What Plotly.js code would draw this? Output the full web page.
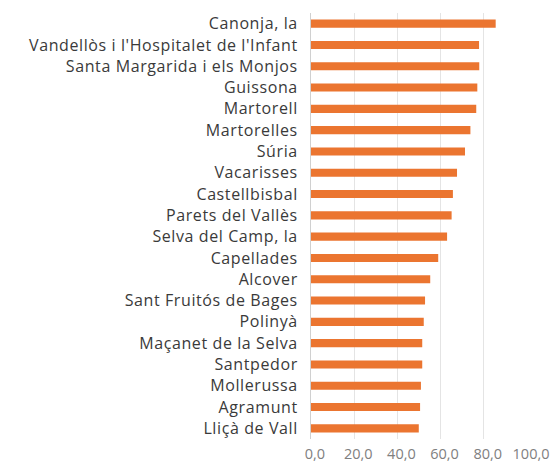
<!DOCTYPE html>
<html>
<head>
<meta charset="utf-8">
<script src="https://cdn.plot.ly/plotly-3.0.1.min.js"></script>
<style>html,body{margin:0;padding:0;background:#fff;}#chart{width:555px;height:466px;}
#chart .ytick text{letter-spacing:0.6px;}</style>
</head>
<body>
<div id="chart"></div>
<script>
const municipalities = [
  "Canonja, la",
  "Vandellòs i l'Hospitalet de l'Infant",
  "Santa Margarida i els Monjos",
  "Guissona",
  "Martorell",
  "Martorelles",
  "Súria",
  "Vacarisses",
  "Castellbisbal",
  "Parets del Vallès",
  "Selva del Camp, la",
  "Capellades",
  "Alcover",
  "Sant Fruitós de Bages",
  "Polinyà",
  "Maçanet de la Selva",
  "Santpedor",
  "Mollerussa",
  "Agramunt",
  "Lliçà de Vall"
];
const values = [85.5, 77.8, 77.9, 77.0, 76.5, 73.8, 71.3, 67.6, 65.7, 65.1, 63.0, 58.9, 55.2, 52.8, 52.2, 51.5, 51.5, 50.9, 50.5, 49.9];
const xTicks = [0, 20, 40, 60, 80, 100];

const trace = {
  type: 'bar',
  orientation: 'h',
  x: values,
  y: municipalities,
  marker: {color: '#EB7530'},
  hoverinfo: 'x+y'
};

const layout = {
  width: 555,
  height: 466,
  margin: {l: 311, r: 28, t: 13, b: 27},
  paper_bgcolor: '#ffffff',
  plot_bgcolor: '#ffffff',
  separators: ',.',
  bargap: 0.62,
  showlegend: false,
  font: {family: '"Open Sans", sans-serif', color: '#404040'},
  xaxis: {
    range: [0, 100],
    tickvals: xTicks,
    tickformat: '.1f',
    showgrid: true,
    gridcolor: '#e4e4e4',
    gridwidth: 1,
    zeroline: false,
    showline: false,
    ticks: '',
    ticklabelshift: 4,
    ticklabelstandoff: 4,
    tickfont: {size: 14.5, color: '#808080', family: '"Open Sans", sans-serif'},
    fixedrange: true
  },
  yaxis: {
    autorange: 'reversed',
    type: 'category',
    showline: true,
    linecolor: '#d0d0d0',
    linewidth: 1,
    showgrid: false,
    ticks: 'outside',
    ticklen: 9,
    tickcolor: 'rgba(0,0,0,0)',
    tickfont: {size: 16, color: '#3a3a3a', family: '"Open Sans", sans-serif'},
    fixedrange: true
  }
};

Plotly.newPlot('chart', [trace], layout, {displayModeBar: false, staticPlot: true});
</script>
</body>
</html>
